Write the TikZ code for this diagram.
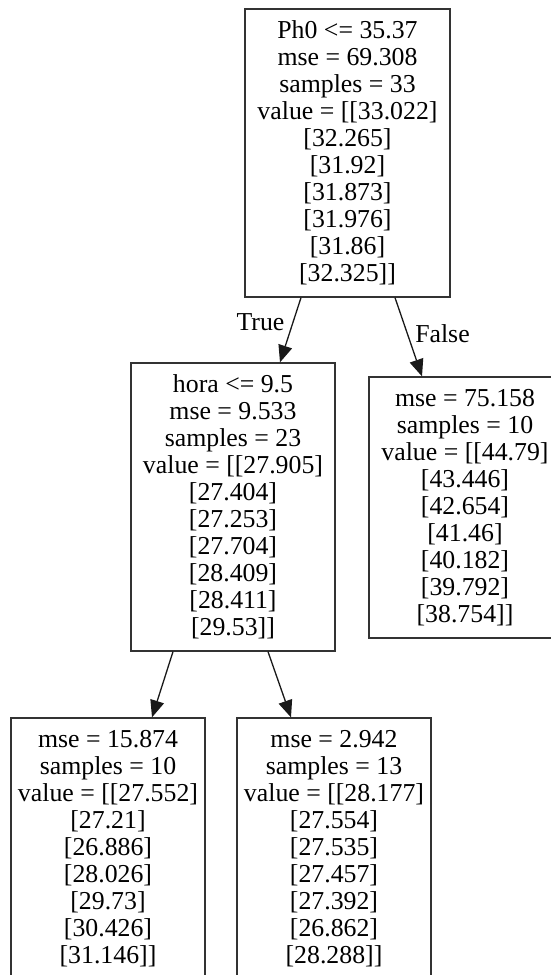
\documentclass[tikz,border=0pt]{standalone}
\usepackage{fontspec}
\setmainfont{Liberation Serif}
\usetikzlibrary{arrows.meta}
% line break that is safe before an opening bracket
\newcommand{\nl}{\\\relax}
\begin{document}
\begin{tikzpicture}[x=1pt,y=-1pt,
  treenode/.style={draw=black!80, line width=1.3pt, rectangle, align=center,
    inner sep=0pt, font=\fontsize{25.8pt}{27pt}\selectfont},
  edgeline/.style={draw=black!90, line width=1.3pt, -{Triangle[length=17pt,width=14pt]}},
  edgelabel/.style={font=\fontsize{25.8pt}{27pt}\selectfont, inner sep=0pt}]
\clip (0,0) rectangle (551,975);
\fill[white] (0,0) rectangle (551,975);

% decision nodes and leaves
\node[treenode, minimum width=205pt, minimum height=288pt] (root) at (347.5,153)
  {Ph0 <= 35.37\nl mse = 69.308\nl samples = 33\nl value = [[33.022]\nl [32.265]\nl [31.92]\nl [31.873]\nl [31.976]\nl [31.86]\nl [32.325]]};
\node[treenode, minimum width=204pt, minimum height=288pt] (hora) at (233,507)
  {hora <= 9.5\nl mse = 9.533\nl samples = 23\nl value = [[27.905]\nl [27.404]\nl [27.253]\nl [27.704]\nl [28.409]\nl [28.411]\nl [29.53]]};
\node[treenode, minimum width=192pt, minimum height=261pt] (right) at (465,507.5)
  {mse = 75.158\nl samples = 10\nl value = [[44.79]\nl [43.446]\nl [42.654]\nl [41.46]\nl [40.182]\nl [39.792]\nl [38.754]]};
\node[treenode, minimum width=194pt, minimum height=261pt] (ll) at (108,848.5)
  {mse = 15.874\nl samples = 10\nl value = [[27.552]\nl [27.21]\nl [26.886]\nl [28.026]\nl [29.73]\nl [30.426]\nl [31.146]]};
\node[treenode, minimum width=194pt, minimum height=261pt] (lr) at (334,848.5)
  {mse = 2.942\nl samples = 13\nl value = [[28.177]\nl [27.554]\nl [27.535]\nl [27.457]\nl [27.392]\nl [26.862]\nl [28.288]]};

% connectors
\draw[edgeline] ([xshift=-46.5pt]root.south) -- ([xshift=47pt]hora.north)
  node[edgelabel, midway, xshift=-30pt, yshift=8pt] {True};
\draw[edgeline] ([xshift=47.5pt]root.south) -- ([xshift=-43pt]right.north)
  node[edgelabel, midway, xshift=34pt, yshift=3pt] {False};
\draw[edgeline] ([xshift=-60pt]hora.south) -- ([xshift=44pt]ll.north);
\draw[edgeline] ([xshift=35pt]hora.south) -- ([xshift=-43pt]lr.north);
\end{tikzpicture}
\end{document}
